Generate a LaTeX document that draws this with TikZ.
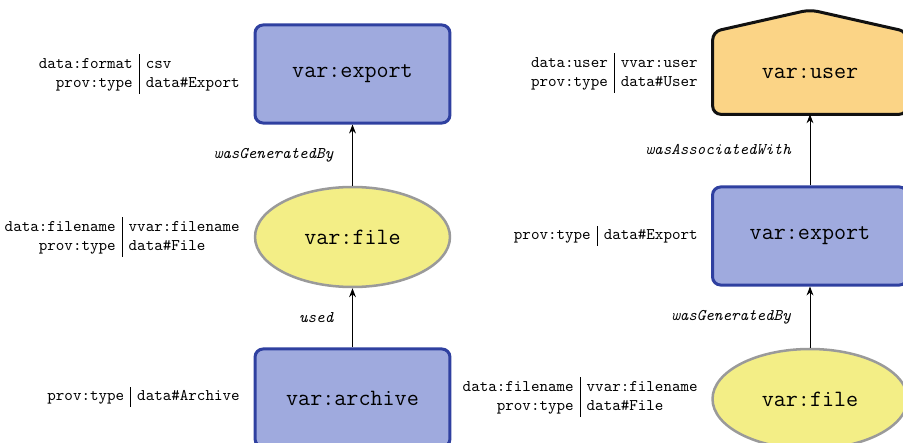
\documentclass[tikz,border=0pt]{standalone}
\usetikzlibrary{arrows.meta,backgrounds,shapes.geometric}
\definecolor{actfill}{RGB}{159,170,222}
\definecolor{actborder}{RGB}{47,64,160}
\definecolor{entfill}{RGB}{243,238,134}
\definecolor{entborder}{RGB}{154,154,154}
\definecolor{agfill}{RGB}{251,212,134}
\definecolor{agborder}{RGB}{17,17,17}
\begin{document}
\begin{tikzpicture}[x=0.615pt,y=-0.615pt,
  activity/.style={draw=actborder, fill=actfill, line width=1.85pt, rounded corners=5pt,
    minimum width=119.9pt, minimum height=60.3pt, inner sep=0pt, font=\Large\ttfamily},
  entity/.style={ellipse, draw=entborder, fill=entfill, line width=1.55pt,
    minimum width=119.9pt, minimum height=61.5pt, inner sep=0pt, font=\Large\ttfamily},
  agent/.style={minimum width=119.3pt, minimum height=50.4pt, inner sep=0pt, font=\Large\ttfamily},
  props/.style={anchor=east, inner sep=0pt, font=\normalsize\ttfamily},
  rel/.style={-{Stealth[length=5.5pt,width=4.2pt]}, line width=0.6pt, black},
  rellabel/.style={left=11.5pt, inner sep=0pt, font=\ttfamily\itshape}]
\useasboundingbox (0,0) rectangle (903,443);
\clip (0,0) rectangle (903,443);
\setlength{\tabcolsep}{4pt}

% left chain: archive -> file -> export
\node[activity] (export1) at (352.5,74) {var:export};
\node[entity] (file1) at (352.5,237) {var:file};
\node[activity] (archive) at (352.5,398) {var:archive};

\node[props] (p-export1) at (240,74) {\begin{tabular}{@{}r|l@{}}data:format & csv\\ prov:type & data\#Export\end{tabular}};
\node[props] (p-file1) at (240,237) {\begin{tabular}{@{}r|l@{}}data:filename & vvar:filename\\ prov:type & data\#File\end{tabular}};
\node[props] (p-archive) at (240,397) {\begin{tabular}{@{}r|l@{}}prov:type & data\#Archive\end{tabular}};

\draw[rel] (file1.north) -- node[rellabel] {wasGeneratedBy} (export1.south);
\draw[rel] (archive.north) -- node[rellabel] {used} (file1.south);

% right chain: file -> export -> user
\node[agent] (user) at (810,73) {var:user};
\begin{scope}[on background layer]
  \draw[agborder, fill=agfill, line width=1.85pt, rounded corners=5pt]
    (user.south west) -- (user.north west) -- ([yshift=13.5pt]user.north)
    -- (user.north east) -- (user.south east) -- cycle;
\end{scope}
\node[activity] (export2) at (810,236) {var:export};
\node[entity] (file2) at (810,399) {var:file};

\node[props] (p-user) at (698,73) {\begin{tabular}{@{}r|l@{}}data:user & vvar:user\\ prov:type & data\#User\end{tabular}};
\node[props] (p-export2) at (698,236) {\begin{tabular}{@{}r|l@{}}prov:type & data\#Export\end{tabular}};
\node[props] (p-file2) at (698,397) {\begin{tabular}{@{}r|l@{}}data:filename & vvar:filename\\ prov:type & data\#File\end{tabular}};

\draw[rel] (export2.north) -- node[rellabel] {wasAssociatedWith} (user.south);
\draw[rel] (file2.north) -- node[rellabel] {wasGeneratedBy} (export2.south);
\end{tikzpicture}
\end{document}
